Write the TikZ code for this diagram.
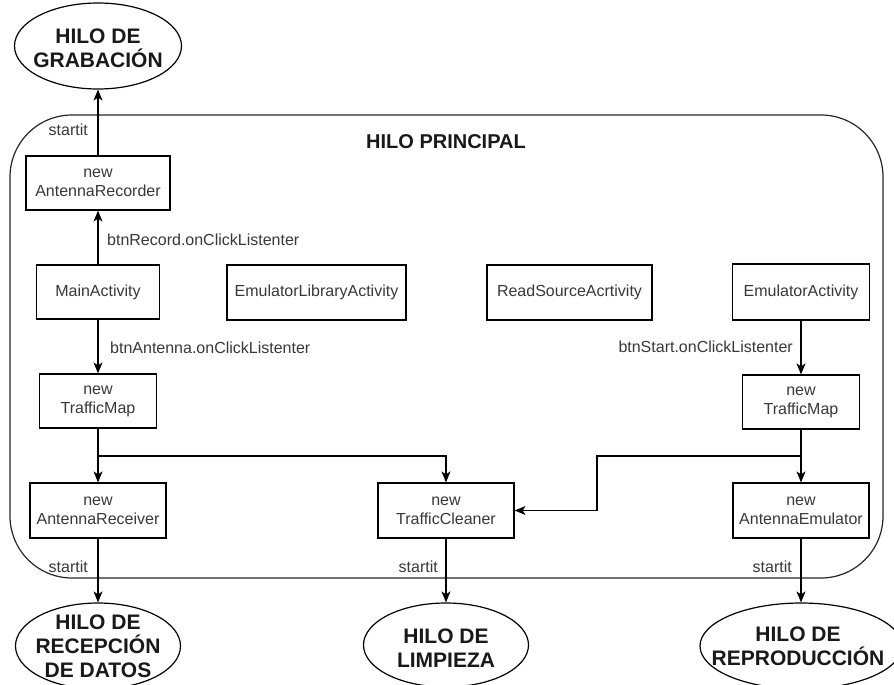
\documentclass[tikz,border=0pt]{standalone}
\usepackage{fontspec}
\setmainfont{Liberation Sans}
\usetikzlibrary{arrows.meta,shapes.geometric}
\begin{document}
\begin{tikzpicture}[x=1pt,y=-1pt,
  box/.style={draw=black, line width=1.2pt, rectangle, inner sep=0pt, align=center,
    font=\fontsize{16}{19}\selectfont, text=black!78},
  thread/.style={draw=black, line width=1.2pt, ellipse, inner sep=0pt},
  threadtext/.style={align=center, inner sep=0pt, text=black!90,
    font=\fontsize{21}{24}\selectfont\bfseries},
  lbl/.style={font=\fontsize{16}{19}\selectfont, text=black!78, inner sep=0pt},
  flow/.style={-{Stealth[length=11pt,width=9pt,inset=3pt]}, line width=1.3pt},
  frame/.style={draw=black!85, line width=1.2pt, rounded corners=62pt},
]
\useasboundingbox (0,0) rectangle (894,685);

% main thread container
\draw[frame] (10,115) rectangle (883,578);
\node[threadtext, font=\fontsize{20}{24}\selectfont\bfseries] (title) at (446,142) {HILO PRINCIPAL};

% activities and objects
\node[box, minimum width=144pt, minimum height=54pt] (rec) at (98,183) {new\\AntennaRecorder};
\node[box, minimum width=123pt, minimum height=54pt] (main) at (98,292) {MainActivity};
\node[box, minimum width=179pt, minimum height=55pt] (emulib) at (316.5,292.5) {EmulatorLibraryActivity};
\node[box, minimum width=165pt, minimum height=55pt] (readsrc) at (569.5,292.5) {ReadSourceAcrtivity};
\node[box, minimum width=137pt, minimum height=56pt] (emuact) at (801,292) {EmulatorActivity};
\node[box, minimum width=117pt, minimum height=54pt] (tmL) at (98,401) {new\\TrafficMap};
\node[box, minimum width=117pt, minimum height=54pt] (tmR) at (801,402) {new\\TrafficMap};
\node[box, minimum width=136pt, minimum height=55pt] (recv) at (98,510.5) {new\\AntennaReceiver};
\node[box, minimum width=136pt, minimum height=55pt] (clean) at (446,510.5) {new\\TrafficCleaner};
\node[box, minimum width=136pt, minimum height=55pt] (emu) at (801,510.5) {new\\AntennaEmulator};

% threads
\node[thread, minimum width=167pt, minimum height=86pt] (tgrab) at (98,46) {};
\node[threadtext] (tgrabtxt) at (98,48) {HILO DE\\GRABACIÓN};
\node[thread, minimum width=165pt, minimum height=86pt] (trecv) at (98,646) {};
\node[threadtext] (trecvtxt) at (98,646) {HILO DE\\RECEPCIÓN\\DE DATOS};
\node[thread, minimum width=165pt, minimum height=84pt] (tclean) at (446,645) {};
\node[threadtext] (tcleantxt) at (446,648) {HILO DE\\LIMPIEZA};
\node[thread, minimum width=202pt, minimum height=86pt] (temu) at (801,646) {};
\node[threadtext] (temutxt) at (798,646) {HILO DE\\REPRODUCCIÓN};

% connectors
\draw[flow] (main.north) -- (rec.south);
\draw[flow] (rec.north) -- (tgrab.south);
\draw[flow] (main.south) -- (tmL.north);
\draw[flow] (tmL.south) -- (recv.north);
\coordinate (jL) at (98,456);
\draw[flow] (jL) -| (clean.north);
\draw[flow] (emuact.south) -- (tmR.north);
\draw[flow] (tmR.south) -- (emu.north);
\coordinate (jR) at (801,456);
\draw[flow] (jR) -- ++(-204,0) |- (clean.east);
\draw[flow] (recv.south) -- (trecv.north);
\draw[flow] (clean.south) -- (tclean.north);
\draw[flow] (emu.south) -- (temu.north);

% connector labels
\node[lbl, anchor=east] (s1) at (88,130) {startit};
\node[lbl, anchor=west] (l1) at (107,240) {btnRecord.onClickListenter};
\node[lbl, anchor=west] (l2) at (110,348) {btnAntenna.onClickListenter};
\node[lbl, anchor=east] (l3) at (793,347) {btnStart.onClickListenter};
\node[lbl, anchor=east] (s2) at (88,567) {startit};
\node[lbl, anchor=east] (s3) at (438,567) {startit};
\node[lbl, anchor=east] (s4) at (792,567) {startit};
\end{tikzpicture}
\end{document}
